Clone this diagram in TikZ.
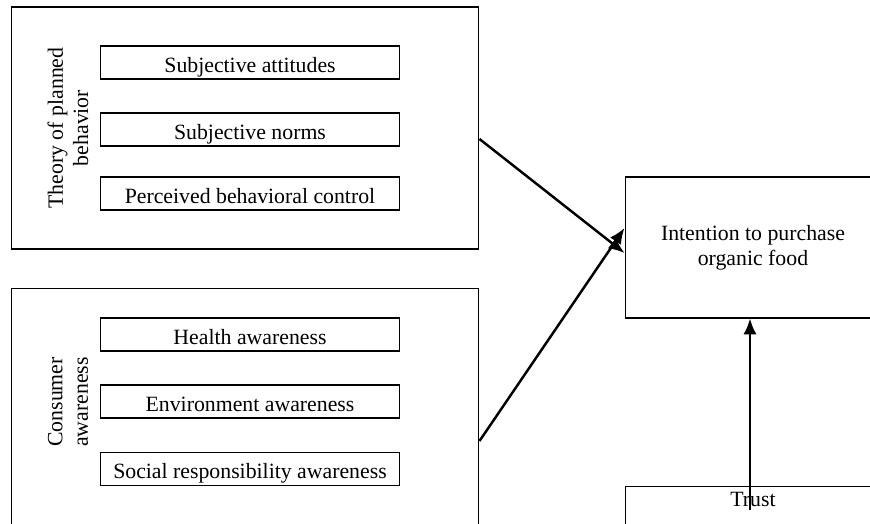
\documentclass[tikz,border=0pt]{standalone}
\usepackage{fontspec}
\setmainfont{Liberation Serif}
\usetikzlibrary{arrows.meta}

\begin{document}
\begin{tikzpicture}[
		x=0.02cm, y=-0.02cm,
		font=\fontsize{12.4}{14.4}\selectfont,
		frame/.style={draw, line width=0.6pt, inner sep=0pt},
		item/.style={draw, line width=0.6pt, minimum width=6cm, minimum height=0.66cm, inner sep=0pt, text height=12.5pt, text depth=1.5pt},
		side/.style={rotate=90, align=center, inner sep=0pt},
		link/.style={line width=1.4pt, -{Latex[length=9pt,width=7.5pt]}}
		]
		\useasboundingbox (0,0) rectangle (870,524);
		\clip (0,0) rectangle (870,524);
		\node[frame, minimum width=9.36cm, minimum height=4.84cm] (tpb) at (245,128) {};
		\node[frame, minimum width=9.36cm, minimum height=5.44cm] (aware) at (245,424) {};
		\node[side] (tpblabel) at (68,128) {Theory of planned\\behavior};
		\node[side] (awarelabel) at (68,402) {Consumer\\awareness};
		\node[item] (attitudes) at (250,62.5) {Subjective attitudes};
		\node[item] (norms) at (250,129.5) {Subjective norms};
		\node[item] (control) at (250,193.5) {Perceived behavioral control};
		\node[item] (health) at (250,334.5) {Health awareness};
		\node[item] (environment) at (250,401.5) {Environment awareness};
		\node[item] (social) at (250,469) {Social responsibility awareness};
		\node[frame, minimum width=5.12cm, minimum height=2.82cm, align=center] (intention) at (753,247.5)
			{Intention to purchase\\organic food};
		\node[frame, anchor=north, minimum width=5.12cm, inner ysep=3.5pt, text depth=1.5cm] (trust) at (753,486) {Trust};
		\coordinate (tpbout) at (tpb.east |- 0,139);
		\coordinate (awareout) at (aware.east |- 0,441);
		\coordinate (intin1) at (intention.west |- 0,253);
		\coordinate (intin2) at (intention.west |- 0,228);
		\coordinate (trustout) at (750,510);
		\draw[link] (tpbout) -- (intin1);
		\draw[link] (awareout) -- (intin2);
		\draw[link] (trustout) -- (trustout |- intention.south);
\end{tikzpicture}
\end{document}
